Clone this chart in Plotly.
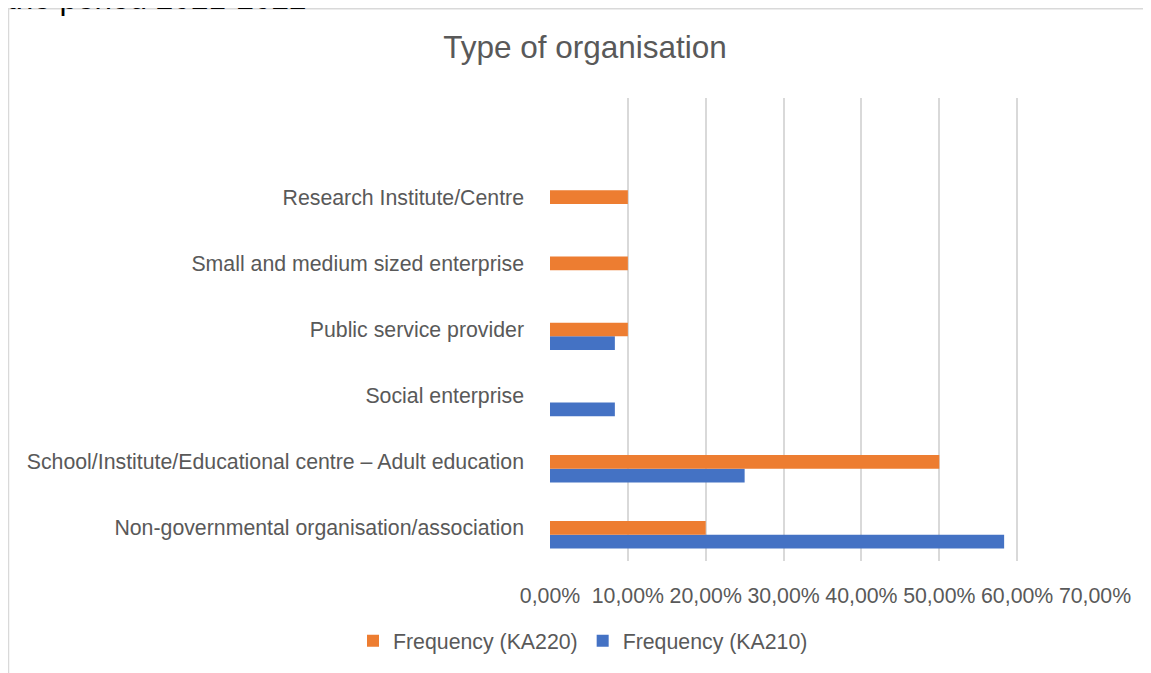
import plotly.graph_objects as go

categories = [
    "Non-governmental organisation/association",
    "School/Institute/Educational centre – Adult education",
    "Social enterprise",
    "Public service provider",
    "Small and medium sized enterprise",
    "Research Institute/Centre",
]
ka220 = [0.20, 0.50, None, 0.10, 0.10, 0.10]
ka210 = [0.5833, 0.25, 0.0833, 0.0833, None, None]
empty_series = [None, None, None, None, None, None]
x_ticks = [0, 0.1, 0.2, 0.3, 0.4, 0.5, 0.6, 0.7]

# page has an 8px body margin; work in figure coords = page - 8
OFF = 8
W, H = 1151 - OFF, 673 - OFF
L, R, T, B = 550 - OFF, 1095 - OFF, 98 - OFF, 562.7 - OFF

def px_x(p):  # page px -> paper x
    return (p - OFF - L) / (R - L)

def px_y(p):  # page px -> paper y
    return (B - (p - OFF)) / (B - T)

fig = go.Figure()
fig.add_trace(go.Bar(y=categories, x=ka210, orientation="h", name="Frequency (KA210)",
                     marker=dict(color="#4472C4", line=dict(width=0)), legendrank=2))
fig.add_trace(go.Bar(y=categories, x=ka220, orientation="h", name="Frequency (KA220)",
                     marker=dict(color="#ED7D31", line=dict(width=0)), legendrank=1))
# empty third series in the source chart (keeps the cluster offset)
fig.add_trace(go.Bar(y=categories, x=empty_series, orientation="h", name="",
                     marker=dict(color="rgba(0,0,0,0)"), showlegend=False, hoverinfo="skip"))

font_family = "Liberation Sans, Arial, sans-serif"
fs = 21.3
fig.update_layout(
    width=W, height=H,
    margin=dict(l=L, r=W - R, t=T, b=H - B, pad=0),
    paper_bgcolor="white", plot_bgcolor="white",
    separators=",.",
    barmode="group", bargap=0.377, bargroupgap=0,
    font=dict(family=font_family, color="#595959", size=fs),
    title=dict(text="Type of organisation", xref="container", x=(585 - OFF) / W, xanchor="center",
               yref="container", y=1 - (47 - OFF) / H, yanchor="middle",
               font=dict(size=31.5, color="#595959", family=font_family)),
    xaxis=dict(range=[0, 0.7], tickvals=x_ticks, tickformat=".2%",
               showgrid=True, gridcolor="#D9D9D9", gridwidth=2,
               zeroline=False, showline=False, ticks="", ticklabelstandoff=20,
               tickfont=dict(size=fs, color="#595959")),
    yaxis=dict(type="category", categoryorder="array", categoryarray=categories,
               range=[-0.5, 6.5], showgrid=False, zeroline=False, showline=False,
               ticks="", ticklabelstandoff=25,
               tickfont=dict(size=fs, color="#595959")),
    legend=dict(orientation="h", x=px_x(583), xanchor="center",
                y=px_y(643), yanchor="middle",
                font=dict(size=fs, color="#595959"),
                itemwidth=30, traceorder="normal"),
    showlegend=True,
)

# outer chart border
fig.add_shape(type="rect", xref="paper", yref="paper",
              x0=px_x(8.5), x1=px_x(1180), y0=px_y(700), y1=px_y(8.5),
              line=dict(color="#D9D9D9", width=1.5), fillcolor="rgba(0,0,0,0)", layer="below")

# cut-off heading text at top of page
fig.add_annotation(text="the period 2021-2022", xref="paper", yref="paper",
                   x=px_x(5), xanchor="left", y=px_y(-2.5), yanchor="middle",
                   showarrow=False, font=dict(size=31.5, color="black", family=font_family))

fig.write_html("out.html")
